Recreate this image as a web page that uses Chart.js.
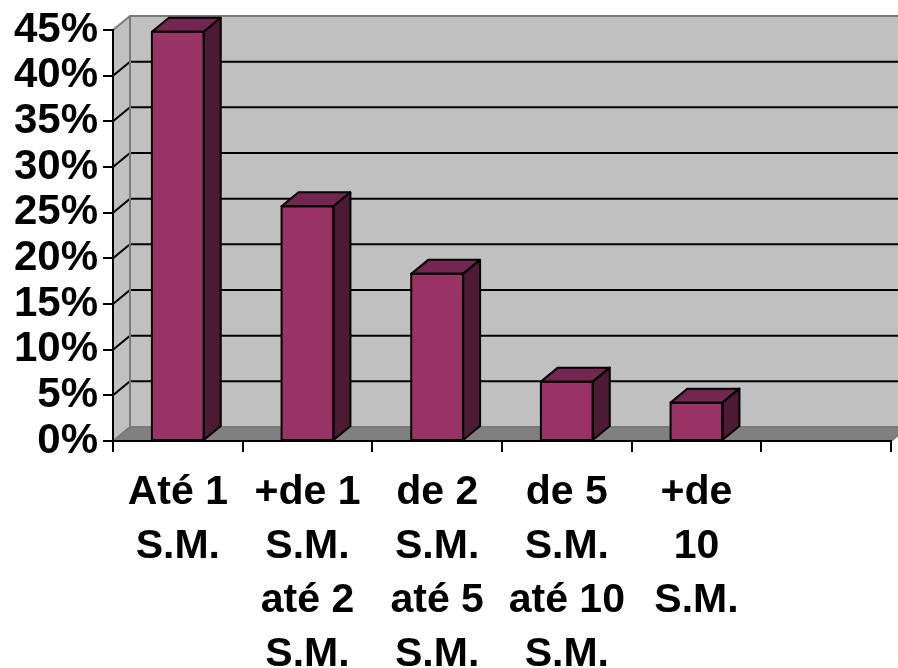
<!DOCTYPE html>
<html>
<head>
<meta charset="utf-8">
<script src="https://cdn.jsdelivr.net/npm/chart.js@4/dist/chart.umd.min.js"></script>
<style>
  html, body { margin: 0; padding: 0; background: #ffffff; }
  canvas { display: block; }
</style>
</head>
<body>
<canvas id="c" width="898" height="668"></canvas>
<script>
// Faixas de renda (salários mínimos) e percentual de respostas
const categories = [
  ['Até 1', 'S.M.'],
  ['+de 1', 'S.M.', 'até 2', 'S.M.'],
  ['de 2', 'S.M.', 'até 5', 'S.M.'],
  ['de 5', 'S.M.', 'até 10', 'S.M.'],
  ['+de', '10', 'S.M.'],
  ''
];
const percentages = [44.8, 25.7, 18.3, 6.5, 4.2, null];
const yTicks = [0, 5, 10, 15, 20, 25, 30, 35, 40, 45];

// 3D depth offset of the back wall and bar tops
const DX = 17, DY = -14;
const FAMILY = '"Liberation Sans", Arial, sans-serif';

function poly(ctx, pts) {
  ctx.beginPath();
  ctx.moveTo(pts[0][0], pts[0][1]);
  for (let i = 1; i < pts.length; i++) ctx.lineTo(pts[i][0], pts[i][1]);
  ctx.closePath();
}

const walls3d = {
  id: 'walls3d',
  beforeDraw(chart) {
    const { ctx, chartArea: { left, right, top, bottom }, scales: { y } } = chart;
    ctx.save();
    // back wall
    ctx.fillStyle = '#c0c0c0';
    ctx.fillRect(left + DX, top + DY, right - left, bottom - top);
    // side wall
    poly(ctx, [[left, bottom], [left, top], [left + DX, top + DY], [left + DX, bottom + DY]]);
    ctx.fill();
    // floor
    ctx.fillStyle = '#808080';
    poly(ctx, [[left, bottom], [right, bottom], [right + DX, bottom + DY], [left + DX, bottom + DY]]);
    ctx.fill();

    // gridlines on the back wall and side wall
    ctx.strokeStyle = '#000';
    ctx.lineWidth = 2;
    yTicks.forEach(v => {
      if (v === yTicks[0] || v === yTicks[yTicks.length - 1]) return;
      const yp = y.getPixelForValue(v);
      ctx.beginPath();
      ctx.moveTo(left, yp);
      ctx.lineTo(left + DX, yp + DY);
      ctx.lineTo(right + DX, yp + DY);
      ctx.stroke();
    });

    // wall edges
    ctx.strokeStyle = '#7a7a7a';
    ctx.lineWidth = 2;
    ctx.beginPath();
    ctx.moveTo(left, top);
    ctx.lineTo(left + DX, top + DY);
    ctx.lineTo(right + DX, top + DY);
    ctx.moveTo(left + DX, top + DY);
    ctx.lineTo(left + DX, bottom + DY);
    ctx.lineTo(right + DX, bottom + DY);
    ctx.moveTo(left, bottom);
    ctx.lineTo(left + DX, bottom + DY);
    ctx.moveTo(right, bottom);
    ctx.lineTo(right + DX, bottom + DY);
    ctx.stroke();
    ctx.restore();
  },
  afterDatasetsDraw(chart) {
    const { ctx } = chart;
    const meta = chart.getDatasetMeta(0);
    ctx.save();
    ctx.strokeStyle = '#000';
    ctx.lineWidth = 2;
    ctx.lineJoin = 'round';
    meta.data.forEach((bar, i) => {
      if (percentages[i] == null) return;
      const { x, y, base, width } = bar.getProps(['x', 'y', 'base', 'width'], true);
      const x1 = x - width / 2, x2 = x + width / 2;
      // top face
      ctx.fillStyle = '#73264f';
      poly(ctx, [[x1, y], [x2, y], [x2 + DX, y + DY], [x1 + DX, y + DY]]);
      ctx.fill(); ctx.stroke();
      // side face
      ctx.fillStyle = '#4d1a34';
      poly(ctx, [[x2, y], [x2 + DX, y + DY], [x2 + DX, base + DY], [x2, base]]);
      ctx.fill(); ctx.stroke();
      // front outline
      ctx.strokeRect(x1, y, width, base - y);
    });
    ctx.restore();
  }
};

new Chart(document.getElementById('c'), {
  type: 'bar',
  data: {
    labels: categories,
    datasets: [{
      data: percentages,
      backgroundColor: '#993366',
      borderWidth: 0,
      barPercentage: 1,
      categoryPercentage: 0.4
    }]
  },
  options: {
    responsive: false,
    devicePixelRatio: 1,
    animation: false,
    layout: { padding: { top: 30, right: 7, left: 0, bottom: 0 } },
    plugins: { legend: { display: false }, tooltip: { enabled: false } },
    scales: {
      x: {
        offset: true,
        grid: { offset: true, drawOnChartArea: false, drawTicks: true, tickLength: 11, color: '#000', lineWidth: 2 },
        border: { display: true, color: '#000', width: 2 },
        ticks: {
          autoSkip: false, maxRotation: 0, minRotation: 0, padding: 14,
          color: '#000', font: { family: FAMILY, size: 41, weight: 'bold', lineHeight: 1.317 }
        },
        afterFit(scale) { scale.height = 227; }
      },
      y: {
        min: 0, max: 45,
        grid: { drawOnChartArea: false, drawTicks: true, tickLength: 10, color: '#000', lineWidth: 2 },
        border: { display: true, color: '#000', width: 2 },
        ticks: {
          stepSize: 5, autoSkip: false, padding: 5, color: '#000',
          font: { family: FAMILY, size: 42, weight: 'bold', lineHeight: 1 },
          callback: v => v + '%'
        },
        afterFit(scale) { scale.width = 113; }
      }
    }
  },
  plugins: [walls3d]
});
</script>
</body>
</html>
